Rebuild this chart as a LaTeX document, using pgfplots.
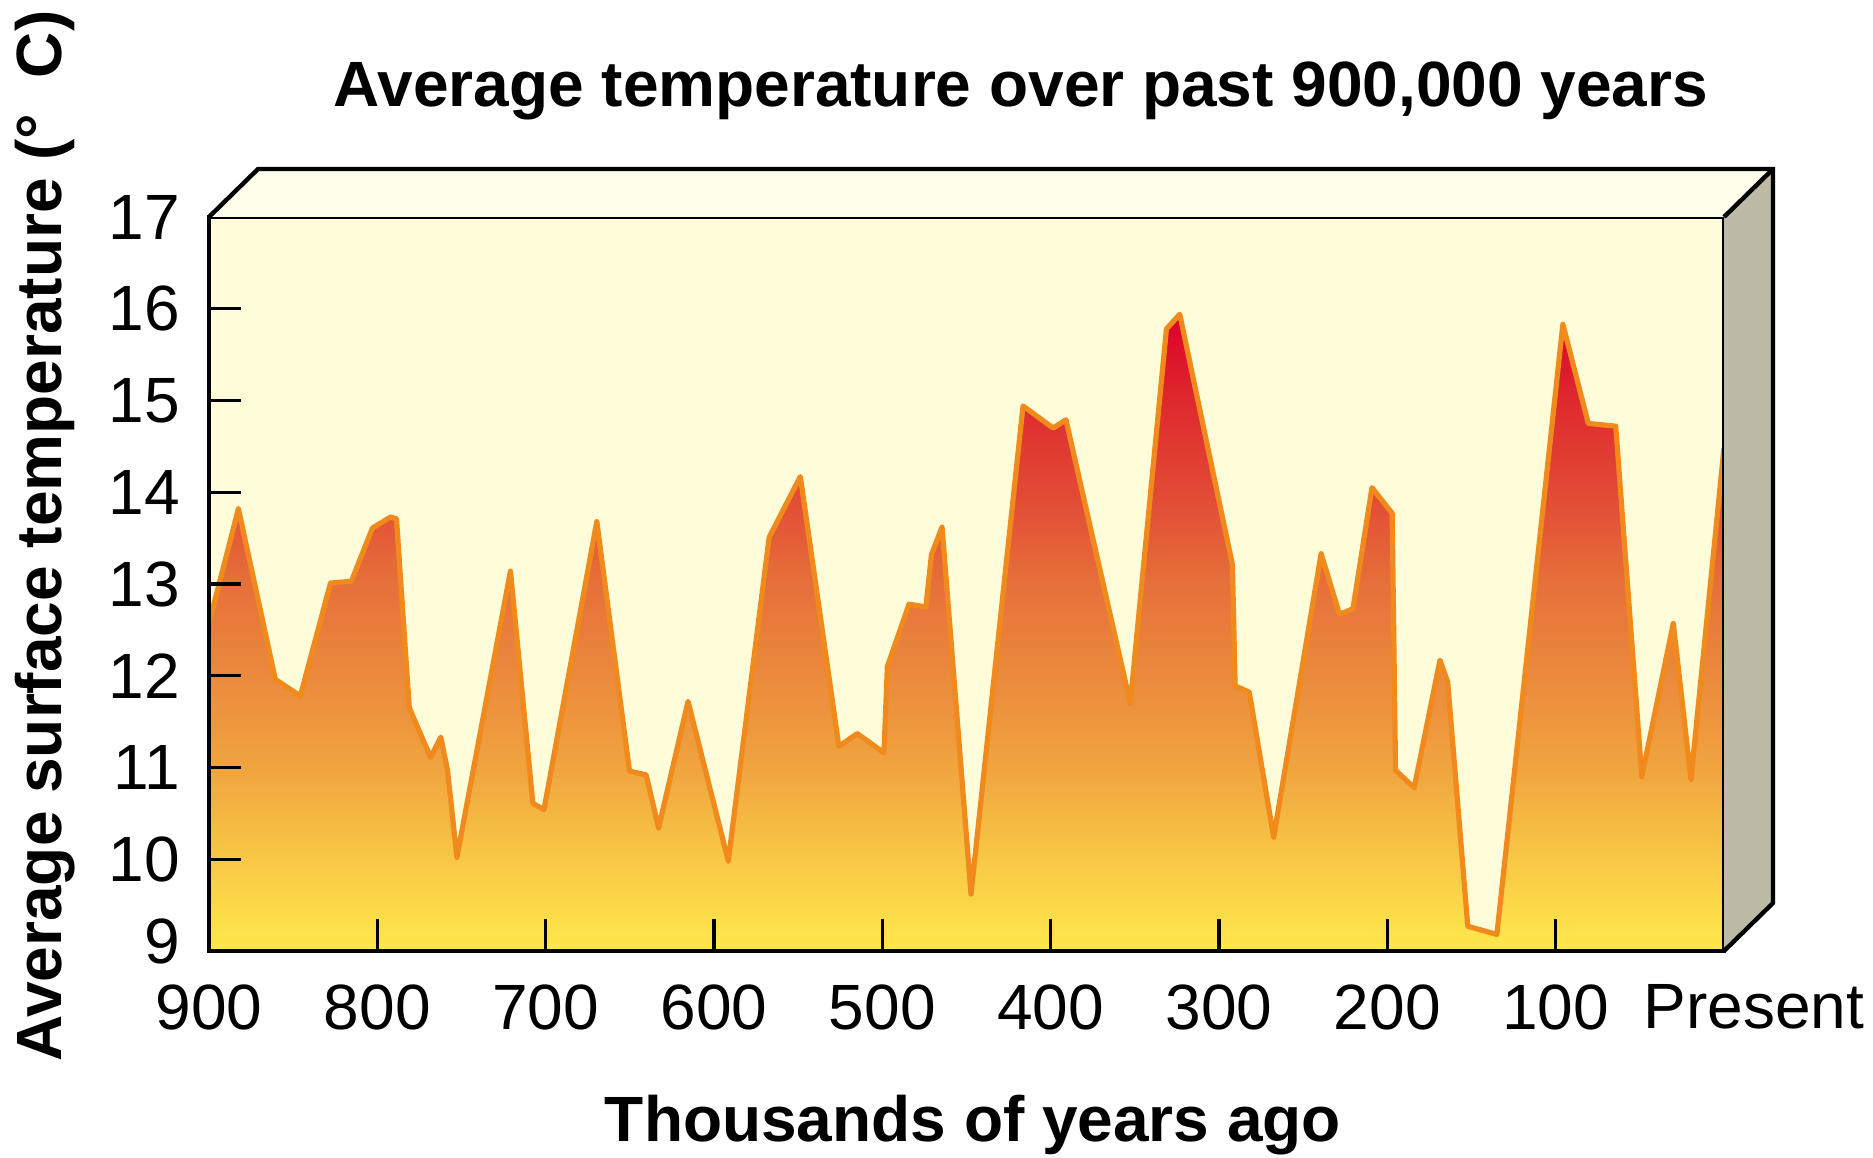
\documentclass[border=0pt]{standalone}
\usepackage{pgfplots}
\pgfplotsset{compat=1.18}
\usepackage{pgfplotstable}
\usepackage{fontspec}
\setmainfont{Liberation Sans}
\definecolor{cream}{HTML}{FFFCDA}
\definecolor{topface}{HTML}{FFFEEA}
\definecolor{sideface}{HTML}{BDBBA5}
\definecolor{lineor}{HTML}{F08A1C}
\definecolor{t9}{HTML}{FFE84C}
\definecolor{t10}{HTML}{F8C845}
\definecolor{t11}{HTML}{F0A43F}
\definecolor{t12}{HTML}{EB8A3C}
\definecolor{t13}{HTML}{E6703A}
\definecolor{t14}{HTML}{E24A35}
\definecolor{t15}{HTML}{DE2A2E}
\definecolor{t16}{HTML}{DC0028}
\pgfdeclareverticalshading{temp}{100bp}{color(0bp)=(t9); color(25bp)=(t9); color(32.2bp)=(t10); color(39.4bp)=(t11); color(46.6bp)=(t12); color(53.8bp)=(t13); color(61bp)=(t14); color(68.2bp)=(t15); color(75bp)=(t16); color(100bp)=(t16)}
\pgfplotstableread{
year temp
900 12.57
882.5 13.82
860.6 11.96
845.7 11.78
827.8 13.01
815.4 13.03
802.9 13.61
792.1 13.73
788.6 13.71
781 11.65
768.3 11.11
762.3 11.33
758.3 10.97
752.7 10.02
720.9 13.14
707.6 10.61
701.0 10.54
669.6 13.68
650.2 10.96
640.3 10.92
632.9 10.34
615.4 11.72
591.5 9.98
567.2 13.51
548.7 14.17
525.8 11.23
514.9 11.37
499.0 11.16
497.0 12.10
484.1 12.78
474.1 12.75
470.8 13.32
464.5 13.62
447.3 9.62
416.4 14.94
398.5 14.70
390.9 14.79
352.7 11.70
331.2 15.78
323.3 15.94
292.0 13.21
290.4 11.89
282.0 11.82
267.5 10.24
239.3 13.33
228.4 12.67
220.4 12.73
209.1 14.05
197.1 13.77
195.1 10.97
184.0 10.78
168.7 12.17
164.1 11.93
152.2 9.27
134.9 9.18
95.7 15.83
80.6 14.75
64.3 14.72
48.8 10.90
30.1 12.57
19.6 10.87
0 14.48
}\tdata
\begin{document}
\begin{tikzpicture}[x=0.25pt,y=0.25pt]
\path[use as bounding box] (0,0) rectangle (1873,1157);
\begin{axis}[
  at={(52.25pt,51.5pt)}, anchor=south west,
  scale only axis, width=378.75pt, height=183.5pt,
  xmin=0, xmax=900, ymin=9, ymax=17, x dir=reverse,
  axis on top,
  axis background/.style={fill=cream},
  axis line style={line width=1.1pt, black},
  xtick={0,100,200,300,400,500,600,700,800,900},
  xticklabels={\hspace*{15pt}Present,100,200,300,400,500,600,700,800,900},
  ytick={9,10,11,12,13,14,15,16,17},
  yticklabels={\raisebox{4.8pt}{9},10,11,12,13,14,15,16,17},
  tick align=inside, tick pos=left, major tick length=8pt,
  tick style={line width=0.8pt, black},
  ticklabel style={font=\fontsize{16}{16}\selectfont},
  /pgf/number format/assume math mode=true,
  xticklabel style={yshift=-4.8pt},
  yticklabel style={xshift=-3.7pt},
]
\addplot[shade, shading=temp, draw=none] table[x=year,y=temp] {\tdata} -- (axis cs:0,9) -- (axis cs:900,9) -- cycle;
\addplot[draw=lineor, line width=1.3pt, line join=round, mark=none] table[x=year,y=temp] {\tdata};
\end{axis}
\fill[topface] (209,940) -- (258,988) -- (1773,988) -- (1724,940) -- cycle;
\fill[sideface] (1724,940) -- (1773,988) -- (1773,254) -- (1724,206) -- cycle;
\draw[line width=1.1pt, line join=miter] (209,940) -- (258,988) -- (1773,988) -- (1773,254) -- (1724,206);
\draw[line width=1.1pt] (1724,940) -- (1773,988);
\node[anchor=base, font=\bfseries\fontsize{16}{16}\selectfont] at (1021,1050) {Average temperature over past 900,000 years};
\node[anchor=base, font=\bfseries\fontsize{16}{16}\selectfont] at (973,16) {Thousands of years ago};
\node[anchor=base, rotate=90, font=\bfseries\fontsize{16}{16}\selectfont] at (62,621) {Average surface temperature (°~~C)};
\end{tikzpicture}
\end{document}
